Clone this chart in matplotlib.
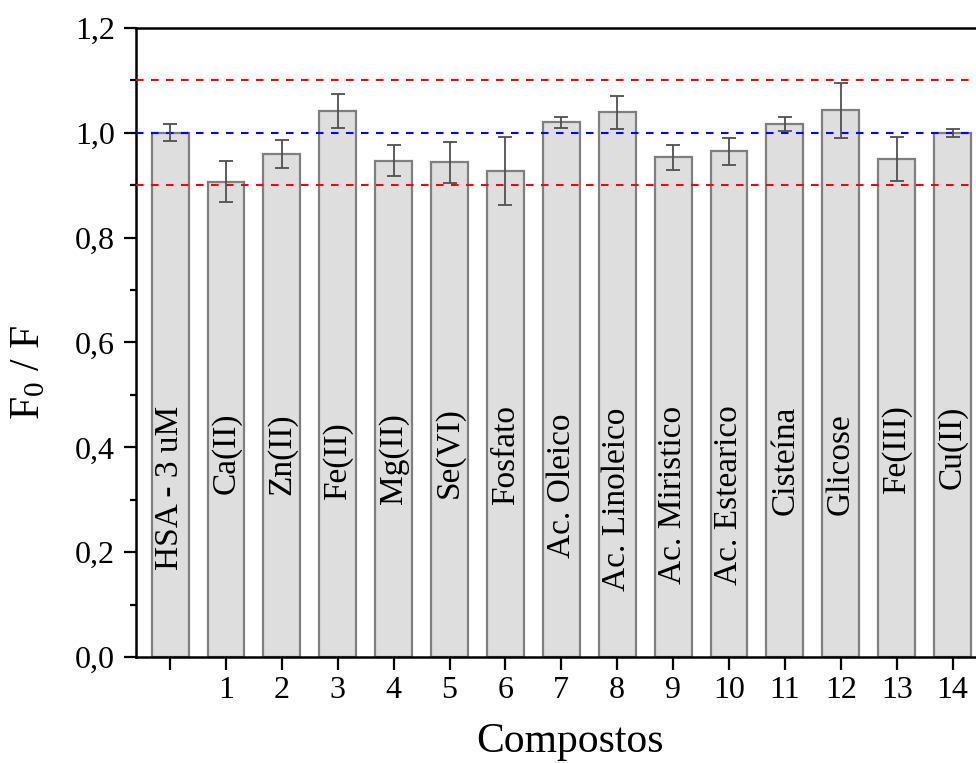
import matplotlib
matplotlib.use("Agg")
import matplotlib.pyplot as plt
from matplotlib.ticker import MultipleLocator

plt.rcParams['font.family'] = ['Liberation Serif', 'DejaVu Serif']
plt.rcParams['mathtext.fontset'] = 'custom'
plt.rcParams['mathtext.rm'] = 'Liberation Serif'
plt.rcParams['mathtext.it'] = 'Liberation Serif:italic'

# ---- data ----
compounds = ["HSA - 3 uM", "Ca(II)", "Zn(II)", "Fe(II)", "Mg(II)", "Se(VI)", "Fosfato",
             "Ac. Oleico", "Ac. Linoleico", "Ac. Miristico", "Ac. Estearico",
             "Cisteína", "Glicose", "Fe(III)", "Cu(II)"]
positions = list(range(15))
values = [1.000, 0.907, 0.959, 1.042, 0.947, 0.944, 0.927,
          1.020, 1.039, 0.953, 0.965, 1.017, 1.043, 0.950, 1.000]
errors = [0.016, 0.039, 0.027, 0.032, 0.029, 0.039, 0.065,
          0.011, 0.032, 0.024, 0.026, 0.013, 0.052, 0.042, 0.008]
xtick_labels = [""] + [str(i) for i in range(1, 15)]
ytick_values = [0.0, 0.2, 0.4, 0.6, 0.8, 1.0, 1.2]
ytick_labels = ["0,0", "0,2", "0,4", "0,6", "0,8", "1,0", "1,2"]
ref_lines = [1.1, 1.0, 0.9]
ref_colors = ["red", "blue", "red"]

# layout: top of each rotated label inside its bar (data units)
label_tops = [0.480, 0.467, 0.465, 0.448, 0.465, 0.477, 0.480,
              0.465, 0.476, 0.480, 0.480, 0.480, 0.465, 0.480, 0.480]

fig = plt.figure(figsize=(9.76, 7.63), dpi=100)
ax = fig.add_axes([136/976, 106/763, (1004-136)/976, (657-28)/763])

ax.bar(positions, values, width=0.66, color="#dedede", edgecolor="#7f7f7f",
       linewidth=1.6, zorder=2)
ax.errorbar(positions, values, yerr=errors, fmt="none", ecolor="#505050",
            elinewidth=1.3, capsize=5, capthick=1.3, zorder=4)

for yv, c in zip(ref_lines, ref_colors):
    ax.axhline(yv, color=c, linestyle=(0, (3.6, 3.6)), linewidth=1.5, zorder=3)

for x, name, yt in zip(positions, compounds, label_tops):
    ax.text(x, yt, name, rotation=90, ha="center", va="top", fontsize=24, zorder=5)

ax.set_xlim(-0.61, 14.92)
ax.set_ylim(0, 1.2)
ax.set_xticks(positions)
ax.set_xticklabels(xtick_labels)
ax.set_yticks(ytick_values)
ax.set_yticklabels(ytick_labels)
ax.yaxis.set_minor_locator(MultipleLocator(0.1))

ax.tick_params(axis="both", which="major", direction="out", length=9, width=1.6,
               labelsize=23)
ax.tick_params(axis="x", which="major", pad=5)
ax.tick_params(axis="y", which="major", pad=6)
ax.tick_params(axis="y", which="minor", direction="out", length=4, width=1.6)
ax.tick_params(axis="x", which="minor", bottom=False)

for s in ax.spines.values():
    s.set_linewidth(1.8)

fig.text(570/976, 1 - 752/763, "Compostos", ha="center", va="baseline", fontsize=30)
fig.text(29/976, 1 - 372/763, r"$\mathregular{F_0}$ / F", ha="center", va="center",
         rotation=90, fontsize=30)

fig.savefig("out.png", dpi=100)
